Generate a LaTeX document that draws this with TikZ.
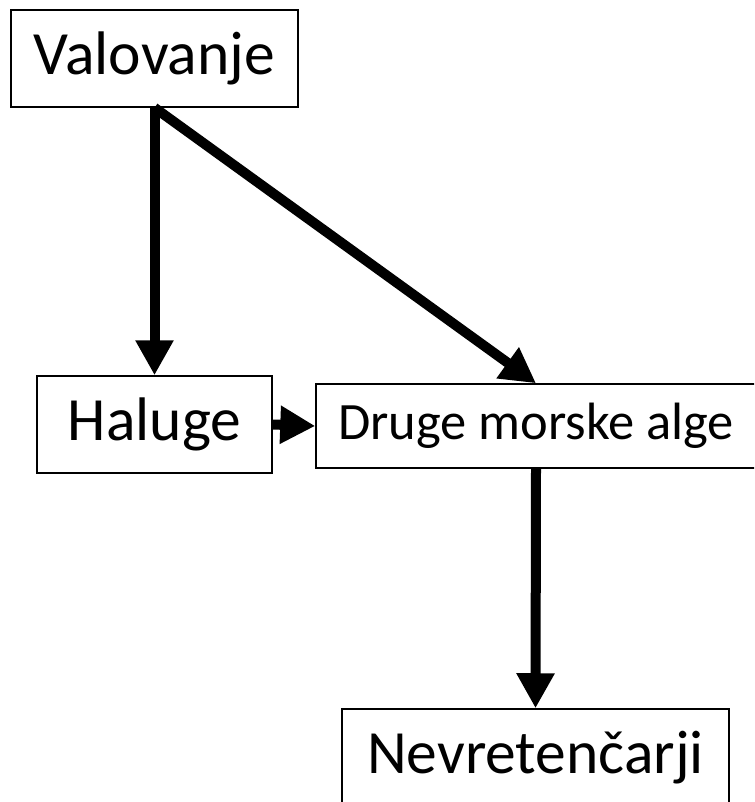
\documentclass[tikz,border=0pt]{standalone}
\usepackage{fontspec}
\setmainfont{Carlito}
\usepackage{tikz}
\usetikzlibrary{positioning,arrows.meta}

\begin{document}
\begin{tikzpicture}[x=1pt,y=-1pt]
\tikzstyle{box}=[rectangle, draw=black, line width=1.5pt, inner sep=0pt, minimum height=97pt, font=\fontsize{61.5}{72}\selectfont]
\tikzstyle{smallbox}=[box, minimum height=84pt, font=\fontsize{52.5}{62}\selectfont]
\tikzstyle{connect}=[-{Triangle[width=36pt,length=35pt]}, line width=10pt]
\useasboundingbox (0,0) rectangle (754,802);
\clip (0,0) rectangle (754,802);
	\node[box, minimum width=287pt] (valovanje) at (154.5,58.5) {Valovanje};
	\node[box, minimum width=235pt] (haluge) at (154.5,424.5) {Haluge};
	\node[smallbox, minimum width=440pt] (druge) at (536,426) {Druge morske alge};
	\node[box, minimum width=387pt] (nevret) at (535.5,757.5) {Nevretenčarji};
	
	\path
		(valovanje.south) edge [connect] (haluge.north)
		(valovanje.south) edge [connect] (druge.north)
		(haluge.east) edge [connect] (druge.west)
		(druge.south) edge [connect] (nevret.north);
		
\end{tikzpicture}
\end{document}
